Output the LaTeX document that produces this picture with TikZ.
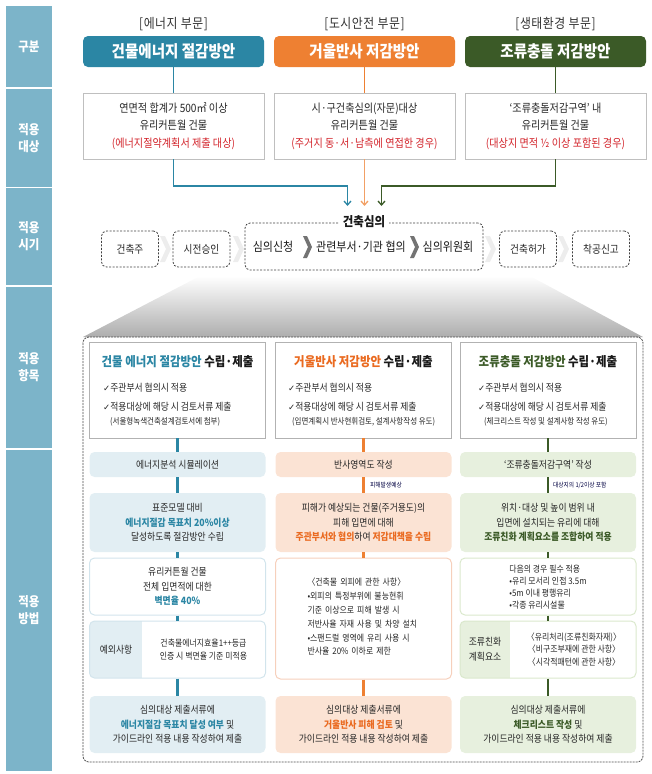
\documentclass[tikz,border=0pt]{standalone}
\usepackage{fontspec}
\setmainfont{Noto Sans CJK KR}[FakeStretch=0.88]
\newfontfamily\symfont{DejaVu Sans}
\usetikzlibrary{arrows.meta}
\usepackage{color}
\definecolor{labelblue}{RGB}{124,180,201}
\definecolor{energy}{RGB}{43,134,164}
\definecolor{mirror}{RGB}{238,128,50}
\definecolor{mirrortxt}{RGB}{234,106,32}
\definecolor{bird}{RGB}{59,90,39}
\definecolor{alert}{RGB}{210,35,42}
\definecolor{energylt}{RGB}{226,238,243}
\definecolor{energyln}{RGB}{210,228,236}
\definecolor{mirrorlt}{RGB}{251,227,212}
\definecolor{mirrorln}{RGB}{246,208,188}
\definecolor{birdlt}{RGB}{231,240,222}
\definecolor{birdln}{RGB}{218,232,204}

\newcommand\fsz[2]{\fontsize{#1}{#2}\selectfont}
\newcommand\ck{{\symfont\fsz{8.5}{10}✓}}

\begin{document}
\begin{tikzpicture}[x=1pt,y=-1pt,
    bandtxt/.style={text=white,font=\fsz{13}{17}\bfseries,align=center},
    sector/.style={font=\fsz{13.5}{15}\addfontfeature{LetterSpace=4},text=black!80},
    headbox/.style={rounded corners=5pt,minimum width=181pt,minimum height=31pt,text=white,font=\fsz{16.5}{18}\bfseries},
    target/.style={draw=black!25,minimum width=181pt,minimum height=66pt,align=center,font=\fsz{11.5}{17.5}},
    stagebox/.style={draw=black!75,dash pattern=on 2pt off 1.5pt,line width=0.8pt,rounded corners=5pt,minimum width=57pt,minimum height=36pt,font=\fsz{11}{12}},
    revtxt/.style={font=\fsz{12.5}{14},text=black!90},
    itembox/.style={draw=black!30,fill=white,minimum width=176pt,minimum height=96pt},
    ititle/.style={font=\fsz{13}{15}\bfseries,text=black!90},
    chk/.style={anchor=west,font=\fsz{10}{11}},
    subnote/.style={anchor=west,font=\fsz{8.5}{10}},
    flow/.style={rounded corners=5pt,minimum width=176pt,align=center,font=\fsz{10}{14.5}},
    small/.style={align=center,font=\fsz{9}{12.5}},
    linklabel/.style={anchor=west,font=\fsz{6.5}{8},text=black!75!blue},
    eline/.style={energy,line width=3pt},
    mline/.style={mirror,line width=3pt},
    bline/.style={bird,line width=2.5pt},
    arr/.style={line width=1.3pt,-{Straight Barb[length=4pt,width=7pt]}}]
\tikzstyle{every node}=[inner sep=0pt,text=black!85]
\useasboundingbox (0,0) rectangle (652,774);

\foreach \ya/\yb/\txt [count=\i] in {6/87/{구분},89/187/{적용\\대상},188/285/{적용\\시기},287/448/{적용\\항목},450/771/{적용\\방법}}{
    \fill[labelblue] (6,\ya) rectangle (52,\yb);
    \node[bandtxt] (band\i) at (29,{(\ya+\yb)/2}) {\txt};
}

\node[sector] (sec1) at (173.5,24) {[에너지 부문]};
\node[sector] (sec2) at (364.5,24) {[도시안전 부문]};
\node[sector] (sec3) at (555.5,24) {[생태환경 부문]};
\node[headbox,fill=energy] (head1) at (173.5,51.5) {건물에너지 절감방안};
\node[headbox,fill=mirror] (head2) at (364.5,51.5) {거울반사 저감방안};
\node[headbox,fill=bird] (head3) at (555.5,51.5) {조류충돌 저감방안};

\node[target] (tgt1) at (173.5,126) {연면적 합계가 500㎡ 이상\\유리커튼월 건물\\\textcolor{alert}{(에너지절약계획서 제출 대상)}};
\node[target] (tgt2) at (364.5,126) {시·구건축심의(자문)대상\\유리커튼월 건물\\\textcolor{alert}{(주거지 동·서·남측에 연접한 경우)}};
\node[target] (tgt3) at (555.5,126) {‘조류충돌저감구역’ 내\\유리커튼월 건물\\\textcolor{alert}{(대상지 면적 ½ 이상 포함된 경우)}};

\draw[energy,line width=1.3pt] (head1) -- (tgt1);
\draw[mirror,line width=1.3pt] (head2) -- (tgt2);
\draw[bird,line width=1.3pt] (head3) -- (tgt3);
\coordinate (j1) at (347.5,186);
\coordinate (j3) at (381.5,186);
\coordinate (in1) at (347.5,206);
\coordinate (in2) at (364.5,206);
\coordinate (in3) at (381.5,206);
\draw[energy,arr] (tgt1) |- (j1) -- (in1);
\draw[mirror!75,arr] (tgt2) -- (in2);
\draw[bird,arr] (tgt3) |- (j3) -- (in3);

% stages
\foreach \cx in {165,238,490,563}
    \fill[black!7] (\cx-5,236) -- (\cx,236) -- (\cx+6,249) -- (\cx,262) -- (\cx-5,262) -- (\cx+1,249) -- cycle;
\node[stagebox] (st1) at (130,249) {건축주};
\node[stagebox] (st2) at (201.5,249) {시전승인};
\node[stagebox] (st3) at (528,249) {건축허가};
\node[stagebox] (st4) at (601,249) {착공신고};
\node[stagebox,minimum width=238pt,minimum height=47pt] (rev) at (364,246.5) {};
\node[fill=white,inner xsep=4pt,font=\fsz{13}{15}\bfseries,text=black!90] (revt) at (364,222) {건축심의};
\node[revtxt] (rv1) at (273,247) {심의신청};
\node[revtxt] (rv2) at (361,247) {관련부서·기관 협의};
\node[revtxt] (rv3) at (448,247) {심의위원회};
\foreach \cx in {307,414}
    \fill[black!55] (\cx-4,236) -- (\cx,236) -- (\cx+5,247) -- (\cx,258) -- (\cx-4,258) -- (\cx+1,247) -- cycle;

\shade[top color=white,bottom color=black!32] (200,276) -- (530,276) -- (643,337) -- (83,337) -- cycle;
\draw[black!70,dash pattern=on 2pt off 1pt,line width=0.8pt,rounded corners=6pt] (83,337) rectangle (643,762);

% energy column
\node[itembox] (it1) at (177.5,390) {};
\node[ititle] (it1t) at (177.5,362) {\textcolor{energy}{건물 에너지 절감방안} 수립·제출};
\node[chk] (it1a) at (103,388) {\ck 주관부서 협의시 적용};
\node[chk] (it1b) at (103,407) {\ck 적용대상에 해당 시 검토서류 제출};
\node[subnote] (it1c) at (110,422) {(서울형녹색건축설계검토서에 첨부)};
\node[flow,fill=energylt,minimum height=25pt] (e1) at (177.5,464.5) {에너지분석 시뮬레이션};
\node[flow,fill=energylt,minimum height=59pt] (e2) at (177.5,522.5) {표준모델 대비\\\textbf{\textcolor{energy}{에너지절감 목표치 20\%이상}}\\달성하도록 절감방안 수립};
\node[flow,draw=energyln,line width=1pt,minimum height=57pt] (e3) at (177.5,586.5) {유리커튼월 건물\\전체 입면적에 대한\\\textbf{\textcolor{energy}{벽면율 40\%}}};
\begin{scope}
    \clip[rounded corners=5pt] (90,621) rectangle (265,678);
    \fill[energylt] (90,621) rectangle (142,678);
\end{scope}
\node[flow,draw=energyln,line width=1pt,minimum height=57pt] (e4) at (177.5,649.5) {};
\node[small,font=\fsz{10}{12}] (e4a) at (116,649.5) {예외사항};
\node[small] (e4b) at (203.5,649.5) {건축물에너지효율1++등급\\인증 시 벽면율 기준 미적용};
\node[flow,fill=energylt,minimum height=57pt] (e5) at (177.5,724.5) {심의대상 제출서류에\\\textbf{\textcolor{energy}{에너지절감 목표치 달성 여부}} 및\\가이드라인 적용 내용 작성하여 제출};
\draw[eline] (it1) -- (e1);
\draw[eline] (e1) -- (e2);
\draw[eline] (e2) -- (e3);
\draw[eline] (e3) -- (e4);
\draw[eline] (e4) -- (e5);

% mirror column
\node[itembox] (it2) at (363.5,390) {};
\node[ititle] (it2t) at (363.5,362) {\textcolor{mirrortxt}{거울반사 저감방안} 수립·제출};
\node[chk] (it2a) at (288,388) {\ck 주관부서 협의시 적용};
\node[chk] (it2b) at (288,407) {\ck 적용대상에 해당 시 검토서류 제출};
\node[subnote] (it2c) at (292,422) {(입면계획시 반사현휘검토, 설계사항작성 유도)};
\node[flow,fill=mirrorlt,minimum height=25pt] (m1) at (363.5,464.5) {반사영역도 작성};
\node[flow,fill=mirrorlt,minimum height=59pt] (m2) at (363.5,522.5) {피해가 예상되는 건물(주거용도)의\\피해 입면에 대해\\\textbf{\textcolor{mirrortxt}{주관부서와 협의}}하여 \textbf{\textcolor{mirrortxt}{저감대책을 수립}}};
\node[flow,draw=mirrorln,line width=1pt,minimum height=121pt] (m3) at (363.5,618.5) {};
\node[small,text width=112pt,align=left,font=\fsz{9}{13.8}] (m3t) at (363.5,617) {〈건축물 외피에 관한 사항〉\\\makebox[112pt][s]{•외피의 특정부위에 불능현휘}\\\makebox[112pt][s]{기준 이상으로 피해 발생 시}\\\makebox[112pt][s]{저반사율 자재 사용 및 차양 설치}\\\makebox[112pt][s]{•스팬드럴 영역에 유리 사용 시}\\반사율 20\% 이하로 제한};
\node[flow,fill=mirrorlt,minimum height=57pt] (m5) at (363.5,724.5) {심의대상 제출서류에\\\textbf{\textcolor{mirrortxt}{거울반사 피해 검토}} 및\\가이드라인 적용 내용 작성하여 제출};
\draw[mline] (it2) -- (m1);
\draw[mline] (m1) -- (m2);
\draw[mline] (m2) -- (m3);
\draw[mline] (m3) -- (m5);
\node[linklabel] (m1l) at (370,485) {피해발생예상};

% bird column
\node[itembox] (it3) at (548,390) {};
\node[ititle] (it3t) at (548,362) {\textcolor{bird}{조류충돌 저감방안} 수립·제출};
\node[chk] (it3a) at (478,388) {\ck 주관부서 협의시 적용};
\node[chk] (it3b) at (478,407) {\ck 적용대상에 해당 시 검토서류 제출};
\node[subnote] (it3c) at (484,422) {(체크리스트 작성 및 설계사항 작성 유도)};
\node[flow,fill=birdlt,minimum height=25pt] (b1) at (548,464.5) {‘조류충돌저감구역’ 작성};
\node[flow,fill=birdlt,minimum height=59pt] (b2) at (548,522.5) {위치·대상 및 높이 범위 내\\입면에 설치되는 유리에 대해\\\textbf{\textcolor{bird}{조류친화 계획요소를 조합하여 적용}}};
\node[flow,draw=birdln,line width=1pt,minimum height=57pt] (b3) at (548,586.5) {};
\node[small,align=left,font=\fsz{9}{12}] (b3t) at (548,587.5) {다음의 경우 필수 적용\\•유리 모서리 인접 3.5m\\•5m 이내 평행유리\\•각종 유리시설물};
\begin{scope}
    \clip[rounded corners=5pt] (460,621) rectangle (636,678);
    \fill[birdlt] (460,621) rectangle (510,678);
\end{scope}
\node[flow,draw=birdln,line width=1pt,minimum height=57pt] (b4) at (548,649.5) {};
\node[small,font=\fsz{10}{15}] (b4a) at (485,649.5) {조류친화\\계획요소};
\node[small] (b4b) at (574,649.5) {〈유리처리(조류친화자재)〉\\〈비구조부재에 관한 사항〉\\〈시각적패턴에 관한 사항〉};
\node[flow,fill=birdlt,minimum height=57pt] (b5) at (548,724.5) {심의대상 제출서류에\\\textbf{\textcolor{bird}{체크리스트 작성}} 및\\가이드라인 적용 내용 작성하여 제출};
\draw[bline] (it3) -- (b1);
\draw[bline] (b1) -- (b2);
\draw[bline] (b2) -- (b3);
\draw[bline] (b3) -- (b4);
\draw[bline] (b4) -- (b5);
\node[linklabel] (b1l) at (553,485) {대상지의 1/2이상 포함};
\end{tikzpicture}
\end{document}
